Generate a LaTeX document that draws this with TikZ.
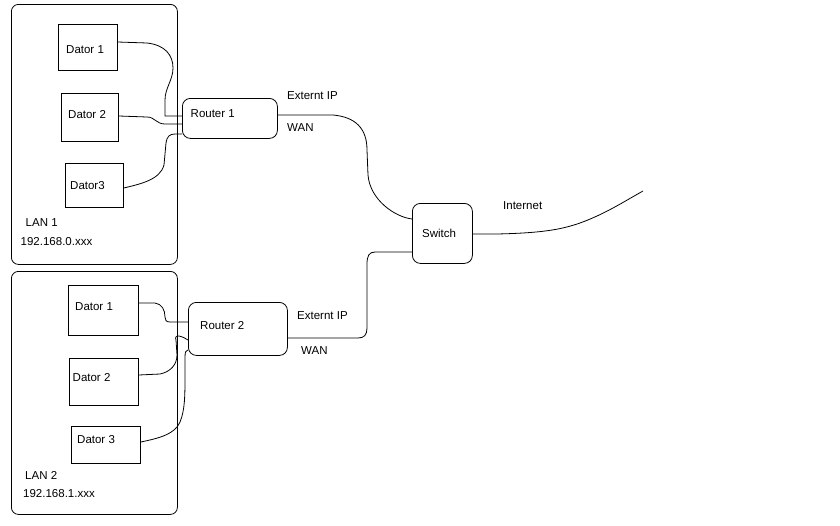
\documentclass[tikz,border=0pt]{standalone}
\usepackage{fontspec}
\setmainfont{Liberation Sans}
\begin{document}
\begin{tikzpicture}[x=1pt,y=-1pt,
  every node/.style={font=\fontsize{11.5}{13}\selectfont},
  pcbox/.style={draw, line width=0.8pt, anchor=north west, inner sep=0pt},
  rbox/.style={pcbox, rounded corners=8pt},
  lanbox/.style={pcbox, rounded corners=7pt},
  txt/.style={anchor=west, inner sep=0pt},
  wire/.style={line width=0.8pt}]
\useasboundingbox[fill=white] (0,0) rectangle (840,525);

% LAN boxes
\node[lanbox, minimum width=166pt, minimum height=260pt] (lan1) at (11,4) {};
\node[lanbox, minimum width=166pt, minimum height=243pt] (lan2) at (11,271) {};

% LAN 1 computers
\node[pcbox, minimum width=59pt, minimum height=46pt] (a1) at (58,24) {};
\node[pcbox, minimum width=57pt, minimum height=48pt] (a2) at (61,93) {};
\node[pcbox, minimum width=58pt, minimum height=44pt] (a3) at (65,163) {};
\node[rbox, minimum width=95pt, minimum height=40pt] (r1) at (182,98) {};

% LAN 2 computers
\node[pcbox, minimum width=70pt, minimum height=50pt] (b1) at (68,285) {};
\node[pcbox, minimum width=69pt, minimum height=47pt] (b2) at (69,358) {};
\node[pcbox, minimum width=69pt, minimum height=37pt] (b3) at (71,426) {};
\node[rbox, minimum width=99pt, minimum height=53pt] (r2) at (188,302) {};

% Switch
\node[rbox, minimum width=60pt, minimum height=60pt] (sw) at (412,203) {};
\coordinate (inet) at (643,191);

% Texts
\node[txt] (ta1) at (66,49.5) {Dator 1};
\node[txt] (ta2) at (68,115) {Dator 2};
\node[txt] (ta3) at (70,185.5) {Dator3};
\node[txt] (tr1) at (190.5,114) {Router 1};
\node[txt] (tlan1) at (25.5,223) {LAN 1};
\node[txt] (tip1) at (20.5,241.5) {192.168.0.xxx};
\node[txt] (tb1) at (75,306.7) {Dator 1};
\node[txt] (tb2) at (72.5,377.5) {Dator 2};
\node[txt] (tb3) at (77,439.5) {Dator 3};
\node[txt] (tr2) at (200,325.5) {Router 2};
\node[txt] (tlan2) at (25,475.5) {LAN 2};
\node[txt] (tip2) at (23,494) {192.168.1.xxx};
\node[txt] (tsw) at (422,233) {Switch};
\node[txt] (text1) at (287,96) {Externt IP};
\node[txt] (twan1) at (287,128) {WAN};
\node[txt] (text2) at (297,316) {Externt IP};
\node[txt] (twan2) at (301,350.5) {WAN};
\node[txt] (tinet) at (503,206) {Internet};

% LAN 1 wires
\draw[wire] (a1.east |- 0,42) -- (147,43) .. controls (165,45) and (173,55) .. (173,68)
  .. controls (173,80) and (165,88) .. (165,100) -- (165,116) -- (r1.west |- 0,116);
\draw[wire] (a2.east |- 0,116) -- (147,117) .. controls (155,117) and (156,124) .. (165,124)
  -- (r1.west |- 0,124);
\draw[wire] (a3.east |- 0,188) .. controls (140,184) and (160,180) .. (164,165)
  -- (166,143) .. controls (167,136) and (170,134) .. (175,134) -- (r1.west |- 0,134);

% WAN wires
\draw[wire] (r1.east |- 0,115) -- (333,115) .. controls (355,117) and (367,128) .. (367,150)
  -- (368,175) .. controls (370,200) and (395,217) .. (sw.west |- 0,219);
\draw[wire] (sw.west |- 0,252) -- (375,252) .. controls (369,252) and (367,256) .. (367,264)
  -- (367,328) .. controls (367,335) and (364,338) .. (358,338) -- (r2.east |- 0,338);
\draw[wire] (sw.east |- 0,234) -- (497,234) .. controls (540,233) and (560,230) .. (580,223)
  .. controls (605,214) and (625,201) .. (inet);

% LAN 2 wires
\draw[wire] (b1.east |- 0,303) -- (155,303) .. controls (162,304) and (165,310) .. (165,317)
  .. controls (165,320) and (166,322) .. (170,322) -- (r2.west |- 0,322);
\draw[wire] (b2.east |- 0,375) -- (160,374) .. controls (170,372) and (177,365) .. (177,355)
  -- (176,340) .. controls (175,337) and (176,336) .. (179,336)
  .. controls (183,337) and (185,338) .. (r2.west |- 0,340);
\draw[wire] (b3.east |- 0,442) .. controls (160,438) and (175,434) .. (180,422)
  .. controls (185,410) and (185,395) .. (185,375) -- (185,357)
  .. controls (185,352) and (186,350) .. (r2.west |- 0,350);
\end{tikzpicture}
\end{document}
